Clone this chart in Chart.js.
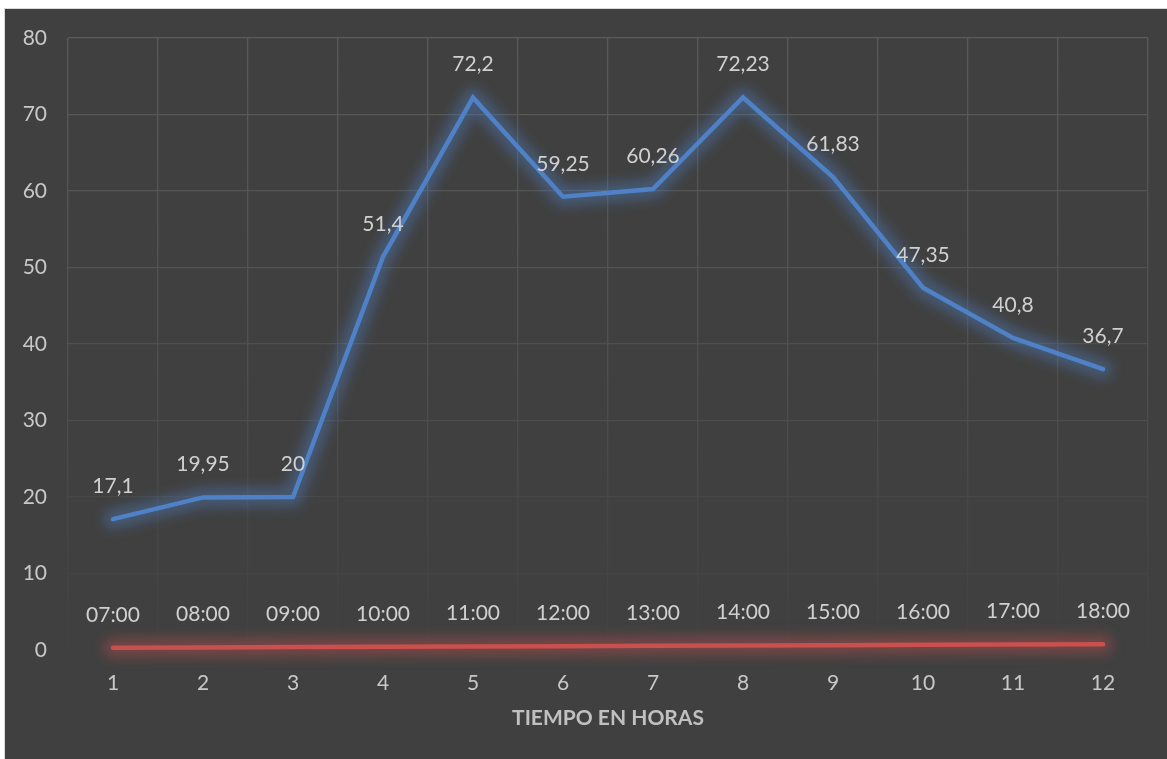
<!DOCTYPE html>
<html>
<head>
<meta charset="utf-8">
<script src="https://cdn.jsdelivr.net/npm/chart.js@4.4.1/dist/chart.umd.min.js"></script>
<style>
  html, body { margin: 0; padding: 0; background: #ffffff; }
  #frame {
    position: absolute; left: 4px; top: 8px; width: 1163px; height: 751px;
    background: #404040; border-top: 1px solid #d9d9d9; border-left: 1px solid #d9d9d9;
    box-sizing: border-box;
  }
  #wrap { position: absolute; left: 0; top: 0; width: 1162px; height: 750px; }
</style>
</head>
<body>
<div id="frame"><div id="wrap"><canvas id="tiempoChart"></canvas></div></div>
<script>
const categories = ["1", "2", "3", "4", "5", "6", "7", "8", "9", "10", "11", "12"];
const valores = [17.1, 19.95, 20, 51.4, 72.2, 59.25, 60.26, 72.23, 61.83, 47.35, 40.8, 36.7];
const horas = ["07:00", "08:00", "09:00", "10:00", "11:00", "12:00", "13:00", "14:00", "15:00", "16:00", "17:00", "18:00"];
const horasValor = [0.29, 0.33, 0.38, 0.42, 0.46, 0.5, 0.54, 0.58, 0.63, 0.67, 0.71, 0.75];
const yTicks = [0, 10, 20, 30, 40, 50, 60, 70, 80];

const FONT = "Lato, 'Open Sans', sans-serif";
const ctx = document.getElementById("tiempoChart");

function gridColor(context) {
  const chart = context.chart;
  const area = chart.chartArea;
  if (!area) return "#555555";
  const g = chart.ctx.createLinearGradient(0, area.top, 0, area.bottom);
  g.addColorStop(0, "#5a5a5a");
  g.addColorStop(0.55, "#4f4f4f");
  g.addColorStop(0.78, "#474747");
  g.addColorStop(1, "#414141");
  return g;
}

// soft halo under each line
const glow = {
  id: "glow",
  beforeDatasetDraw(chart, args) {
    const ds = chart.data.datasets[args.index];
    const pts = chart.getDatasetMeta(args.index).data;
    const c = chart.ctx;
    c.save();
    c.filter = "blur(6px)";
    c.strokeStyle = ds.glowColor;
    c.lineWidth = 20;
    c.lineCap = "round";
    c.lineJoin = "round";
    c.beginPath();
    pts.forEach((p, i) => (i ? c.lineTo(p.x, p.y) : c.moveTo(p.x, p.y)));
    c.stroke();
    c.restore();
  }
};

// data labels above points
const labels = {
  id: "labels",
  afterDatasetsDraw(chart) {
    const c = chart.ctx;
    c.save();
    c.font = "21px " + FONT;
    c.fillStyle = "#d0d0d0";
    c.textAlign = "center";
    c.textBaseline = "middle";
    chart.data.datasets.forEach((ds, i) => {
      const meta = chart.getDatasetMeta(i);
      meta.data.forEach((pt, j) => {
        c.fillText(ds.pointLabels[j], pt.x, pt.y - 33);
      });
    });
    c.restore();
  }
};

new Chart(ctx, {
  type: "line",
  data: {
    labels: categories,
    datasets: [
      {
        label: "Valor",
        data: valores,
        pointLabels: valores.map(v => String(v).replace(".", ",")),
        borderColor: "#4f81c7",
        glowColor: "rgba(79, 129, 199, 0.38)",
        borderWidth: 4.5,
        borderCapStyle: "round",
        pointRadius: 0,
        tension: 0,
        fill: false
      },
      {
        label: "Hora",
        data: horasValor,
        pointLabels: horas,
        borderColor: "#c9504e",
        glowColor: "rgba(201, 80, 78, 0.38)",
        borderWidth: 4.5,
        borderCapStyle: "round",
        pointRadius: 0,
        tension: 0,
        fill: false
      }
    ]
  },
  options: {
    responsive: true,
    maintainAspectRatio: false,
    animation: false,
    layout: { padding: { top: 29, right: 19, left: 0, bottom: 0 } },
    plugins: {
      legend: { display: false },
      tooltip: { enabled: false }
    },
    scales: {
      x: {
        offset: true,
        grid: { offset: true, color: gridColor, lineWidth: 1.3, drawTicks: false },
        border: { display: false },
        ticks: { color: "#c8c8c8", font: { family: FONT, size: 21 }, padding: 21 },
        title: {
          display: true,
          text: "TIEMPO EN HORAS",
          color: "#c0c0c0",
          font: { family: FONT, size: 21, weight: "bold" },
          padding: { top: 0, bottom: 28 }
        },
        afterFit(scale) {
          scale.height = 109;
          scale.paddingLeft = 0;
          scale.paddingRight = 0;
        }
      },
      y: {
        min: 0,
        max: 80,
        afterBuildTicks(scale) { scale.ticks = yTicks.map(v => ({ value: v })); },
        grid: {
          color: (c) => (c.tick && c.tick.value === 0 ? "rgba(0,0,0,0)" : gridColor(c)),
          lineWidth: 1.3,
          drawTicks: false
        },
        border: { display: false },
        ticks: { color: "#c8c8c8", font: { family: FONT, size: 21 }, padding: 21 },
        afterFit(scale) {
          scale.width = 63;
          scale.paddingTop = 0;
          scale.paddingBottom = 0;
        }
      }
    }
  },
  plugins: [glow, labels]
});
</script>
</body>
</html>
